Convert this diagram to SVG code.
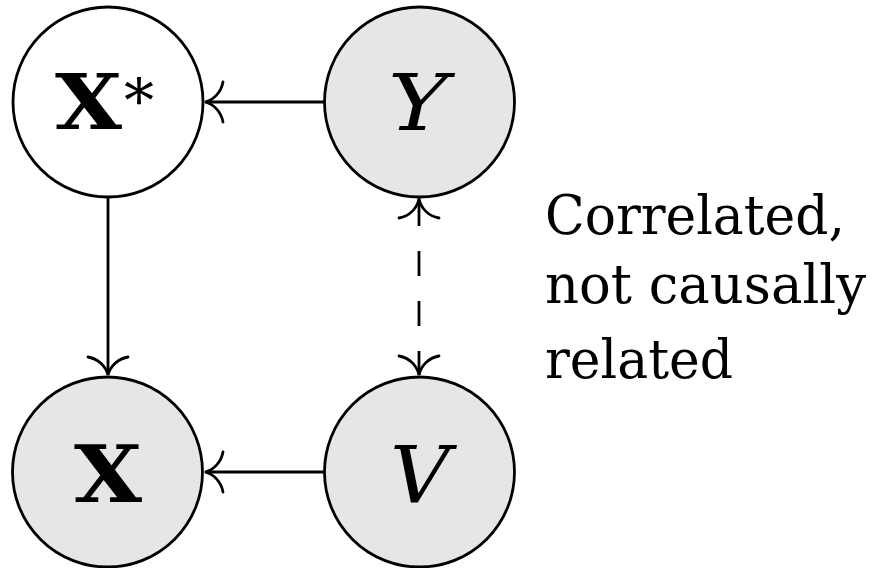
<svg xmlns="http://www.w3.org/2000/svg" width="884" height="568" viewBox="0 0 884 568">
<style>
.node{stroke:#000;stroke-width:2.8}
.obs{fill:#e6e6e6}
.lat{fill:#fff}
.edge{stroke:#000;stroke-width:2.8;fill:none}
.head{stroke:#000;stroke-width:2.8;fill:none;stroke-linecap:round}
text{fill:#000;font-family:"DejaVu Serif","Liberation Serif",serif}
.bold{font-weight:bold}
.it{font-style:italic}
</style>
<rect width="884" height="568" fill="#fff"/>
<g id="connectors">
  <line class="edge" x1="324" y1="102" x2="206" y2="102"/>
  <path class="head" d="M223,82 C221,93 213,100 205,102 C213,104 221,111 223,122"/>
  <line class="edge" x1="324" y1="472" x2="206" y2="472"/>
  <path class="head" d="M223,452 C221,463 213,470 205,472 C213,474 221,481 223,492"/>
  <line class="edge" x1="108" y1="197" x2="108" y2="374"/>
  <path class="head" d="M88,357 C99,359 106,367 108,375 C110,367 117,359 128,357"/>
  <line class="edge" x1="419" y1="201" x2="419" y2="375" stroke-dasharray="25 25"/>
  <path class="head" d="M399,218 C410,216 417,208 419,199"/>
  <path class="head" d="M439,218 C428,216 421,208 419,199"/>
  <path class="head" d="M399,356 C410,358 417,366 419,375 C421,366 428,358 439,356"/>
</g>
<g id="node-xstar">
  <circle class="node lat" cx="108" cy="102" r="95"/>
  <text class="bold" x="55" y="129" font-size="76" textLength="67" lengthAdjust="spacingAndGlyphs">X</text>
  <text x="124" y="122" font-size="60">*</text>
</g>
<g id="node-y">
  <circle class="node obs" cx="419.5" cy="102" r="95"/>
  <text class="it" x="388" y="130" font-size="78" textLength="60" lengthAdjust="spacingAndGlyphs">Y</text>
</g>
<g id="node-x">
  <circle class="node obs" cx="107.5" cy="472" r="95"/>
  <text class="bold" x="74" y="502" font-size="78" textLength="68" lengthAdjust="spacingAndGlyphs">X</text>
</g>
<g id="node-v">
  <circle class="node obs" cx="419.5" cy="472" r="95"/>
  <text class="it" x="390" y="502" font-size="78" textLength="60" lengthAdjust="spacingAndGlyphs">V</text>
</g>
<g id="annotation" font-size="55">
  <text x="545" y="234" textLength="300" lengthAdjust="spacingAndGlyphs">Correlated,</text>
  <text x="545" y="303" textLength="321" lengthAdjust="spacingAndGlyphs">not causally</text>
  <text x="545" y="378" textLength="188" lengthAdjust="spacingAndGlyphs">related</text>
</g>
</svg>
